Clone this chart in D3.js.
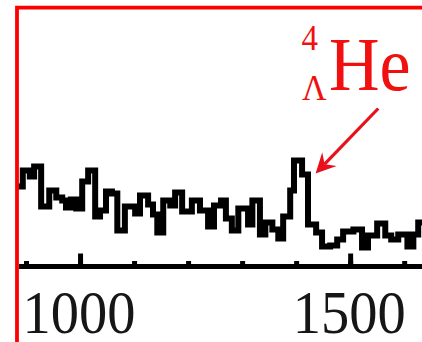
<!DOCTYPE html>
<html>
<head>
<meta charset="utf-8">
<script src="https://cdn.jsdelivr.net/npm/d3@7"></script>
<style>
  html, body { margin: 0; padding: 0; background: #fff; }
  svg { display: block; }
</style>
</head>
<body>
<svg id="chart" width="422" height="342"></svg>
<script>
// ---- data ----
// lower bin edges (MeV), the last entry closes the final bin
const binEdges = [880, 894, 907, 915, 928, 943, 956, 967, 974, 983, 993, 1004, 1015, 1028, 1037, 1048,
  1059, 1069, 1083, 1102, 1111, 1126, 1135, 1143, 1154, 1167, 1176, 1189, 1207, 1222, 1237, 1248,
  1261, 1270, 1281, 1293, 1311, 1319, 1333, 1343, 1356, 1367, 1376, 1389, 1396, 1411, 1422, 1437,
  1448, 1463, 1476, 1487, 1506, 1522, 1533, 1550, 1565, 1576, 1589, 1606, 1617, 1626, 1641];
// counts per bin (arbitrary units)
const counts = [80, 96, 90, 100, 60, 76, 69, 66, 59, 67, 58, 85, 96, 50, 56, 75,
  73, 36, 60, 53, 71, 62, 52, 34, 66, 61, 74, 55, 66, 56, 40, 61,
  66, 48, 36, 58, 42, 66, 32, 44, 37, 28, 50, 76, 106, 92, 42, 34,
  20, 21, 27, 35, 37, 19, 31, 43, 31, 27, 32, 20, 32, 44];
const majorTicks = [1000, 1500];
const minorTicks = [900, 1000, 1100, 1200, 1300, 1400, 1500, 1600];
const labelSup = "4";
const labelSub = "Λ";
const labelMain = "He";
// annotation arrow in data units: [MeV, counts]
const arrowTail = [1552, 158];
const arrowTip = [1436, 93];

// ---- layout ----
const svg = d3.select("#chart");
const W = 422, H = 342;
const frameX = 17, frameY = 7.6;
const axisY = 266.5;
const serif = "'Liberation Serif', 'Times New Roman', serif";

const x = d3.scaleLinear().domain([887, 1633]).range([19, 422]);
const y = d3.scaleLinear().domain([0, 100]).range([axisY, axisY - 100]);

svg.append("defs").append("clipPath").attr("id", "plotClip")
  .append("rect").attr("x", frameX).attr("y", frameY).attr("width", W - frameX).attr("height", H - frameY);

// histogram step line
const pts = counts.map((c, i) => [binEdges[i], c]);
pts.push([binEdges[binEdges.length - 1], counts[counts.length - 1]]);
const line = d3.line().x(d => x(d[0])).y(d => y(d[1])).curve(d3.curveStepAfter);
svg.append("path")
  .attr("clip-path", "url(#plotClip)")
  .attr("d", line(pts))
  .attr("fill", "none")
  .attr("stroke", "#000")
  .attr("stroke-width", 6)
  .attr("stroke-linejoin", "miter")
  .attr("stroke-linecap", "butt");

// axes: minor then major ticks pointing up
const gMinor = svg.append("g").attr("transform", `translate(0,${axisY})`)
  .call(d3.axisBottom(x).tickValues(minorTicks).tickSize(-5.5).tickSizeOuter(0).tickFormat(""));
const gMajor = svg.append("g").attr("transform", `translate(0,${axisY})`)
  .call(d3.axisBottom(x).tickValues(majorTicks).tickSize(-13).tickSizeOuter(0).tickFormat(d3.format("d")));
[gMinor, gMajor].forEach(g => {
  g.select(".domain").remove();
  g.selectAll(".tick line").attr("stroke", "#000").attr("stroke-width", 5);
});
gMajor.selectAll(".tick text")
  .attr("y", 0).attr("dy", 0)
  .attr("transform", "translate(-1.5,66.5) scale(1,1.09)")
  .attr("fill", "#161616")
  .style("font-family", serif)
  .style("font-size", "56.5px");
// axis baseline
svg.append("line")
  .attr("x1", x.range()[0]).attr("x2", x.range()[1])
  .attr("y1", axisY).attr("y2", axisY)
  .attr("stroke", "#000").attr("stroke-width", 5.2);

// red frame
svg.append("path")
  .attr("d", `M${frameX},${H} V${frameY} H${W}`)
  .attr("fill", "none").attr("stroke", "#ff0000").attr("stroke-width", 3.8)
  .attr("stroke-linejoin", "miter");

// red label
const red = "#f01010";
const lab = svg.append("g").attr("fill", red);
lab.append("text").text(labelMain)
  .attr("transform", "translate(329,90) scale(1,1.075)")
  .style("font-family", serif)
  .style("font-size", "70px");
lab.append("text").text(labelSup)
  .attr("transform", "translate(301.5,50) scale(1,1.1)")
  .style("font-family", serif)
  .style("font-size", "33px");
lab.append("text").text(labelSub)
  .attr("transform", "translate(302,100) scale(1,1.08)")
  .style("font-family", serif)
  .style("font-size", "34px");

// arrow
const tx = x(arrowTail[0]), ty = y(arrowTail[1]);
const px = x(arrowTip[0]), py = y(arrowTip[1]);
const dx = px - tx, dy = py - ty, len = Math.hypot(dx, dy);
const ux = dx / len, uy = dy / len, nx = -uy, ny = ux;
const headL = 20, headW = 10, notch = 13;
svg.append("line")
  .attr("x1", tx).attr("y1", ty)
  .attr("x2", px - ux * notch).attr("y2", py - uy * notch)
  .attr("stroke", "#e8101c").attr("stroke-width", 3.2);
const p = d3.path();
p.moveTo(px, py);
p.lineTo(px - ux * headL + nx * headW, py - uy * headL + ny * headW);
p.lineTo(px - ux * notch, py - uy * notch);
p.lineTo(px - ux * headL - nx * headW, py - uy * headL - ny * headW);
p.closePath();
svg.append("path").attr("d", p.toString()).attr("fill", "#e8101c");
</script>
</body>
</html>
